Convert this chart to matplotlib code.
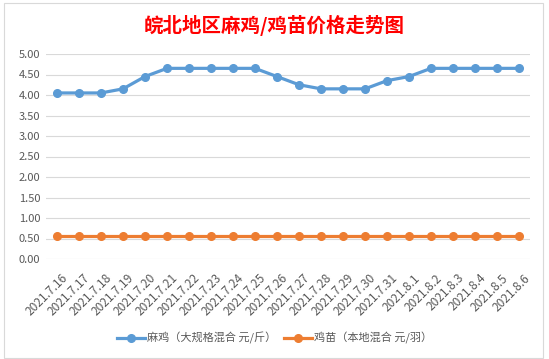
import matplotlib
matplotlib.use('Agg')
import matplotlib.pyplot as plt
import matplotlib.transforms as mtransforms
from matplotlib.patches import Rectangle

plt.rcParams['font.family'] = ['Noto Sans CJK SC', 'DejaVu Sans']

dates = ['2021.7.16', '2021.7.17', '2021.7.18', '2021.7.19', '2021.7.20', '2021.7.21',
         '2021.7.22', '2021.7.23', '2021.7.24', '2021.7.25', '2021.7.26', '2021.7.27',
         '2021.7.28', '2021.7.29', '2021.7.30', '2021.7.31', '2021.8.1', '2021.8.2',
         '2021.8.3', '2021.8.4', '2021.8.5', '2021.8.6']
maji = [4.05, 4.05, 4.05, 4.15, 4.45, 4.65, 4.65, 4.65, 4.65, 4.65, 4.45, 4.25,
        4.15, 4.15, 4.15, 4.35, 4.45, 4.65, 4.65, 4.65, 4.65, 4.65]
jimiao = [0.55] * 22
yticks = [0, 0.5, 1, 1.5, 2, 2.5, 3, 3.5, 4, 4.5, 5]

W, H = 549, 359
fig = plt.figure(figsize=(W / 100, H / 100), dpi=100)
ax = fig.add_axes([46 / W, 1 - 259 / H, (530 - 46) / W, (259 - 54) / H])

x = list(range(len(dates)))
ax.plot(x, maji, color='#5B9BD5', lw=2.3, marker='o', ms=5.5, label='麻鸡（大规格混合 元/斤）')
ax.plot(x, jimiao, color='#ED7D31', lw=2.3, marker='o', ms=5.5, label='鸡苗（本地混合 元/羽）')

ax.set_xlim(-0.5, len(dates) - 0.5)
ax.set_ylim(0, 5)
ax.set_yticks(yticks)
ax.set_yticklabels([f'{v:.2f}' for v in yticks])
ax.set_xticks(x)
ax.set_xticklabels(dates, rotation=45, ha='right', rotation_mode='anchor')
ax.tick_params(length=0, labelsize=8, colors='#595959', pad=4)
ax.tick_params(axis='x', labelsize=8.6, pad=9)
ax.grid(axis='y', color='#D9D9D9', lw=0.8)
ax.set_axisbelow(True)
for s in ax.spines.values():
    s.set_visible(False)

# nudge rotated date labels a little right, like Excel
shift = mtransforms.ScaledTranslation(4 / 100, 0, fig.dpi_scale_trans)
for lbl in ax.get_xticklabels():
    lbl.set_transform(lbl.get_transform() + shift)

fig.text(0.5, 1 - 25 / H, '皖北地区麻鸡/鸡苗价格走势图', ha='center', va='center',
         color='#FF0000', fontsize=14, fontweight='bold')

fig.legend(loc='center', bbox_to_anchor=(0.5, 1 - 338 / H), ncol=2, frameon=False,
           fontsize=8, labelcolor='#595959', handlelength=2.5, columnspacing=0.7,
           handletextpad=0.2)

fig.patches.append(Rectangle((4 / W, 1 / H), 539 / W, 355 / H, transform=fig.transFigure,
                             fill=False, edgecolor='#D9D9D9', lw=0.8))

fig.savefig('out.png', dpi=100)
